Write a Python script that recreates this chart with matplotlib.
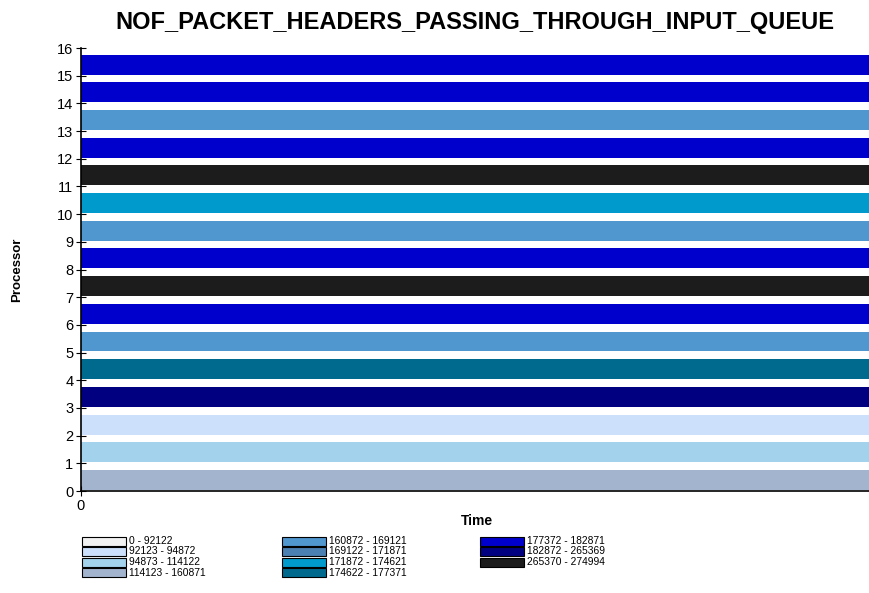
import matplotlib.pyplot as plt
from matplotlib.patches import Rectangle

plt.rcParams['font.family'] = ['Liberation Sans', 'DejaVu Sans']

# legend classes (value range -> colour)
ranges = ['0 - 92122', '92123 - 94872', '94873 - 114122', '114123 - 160871',
          '160872 - 169121', '169122 - 171871', '171872 - 174621', '174622 - 177371',
          '177372 - 182871', '182872 - 265369', '265370 - 274994']
range_colors = ['#F2F2F2', '#CCE0FB', '#A3D3EC', '#A2B4CE',
                '#5096CF', '#4A80B2', '#009ACC', '#006A8E',
                '#0000CC', '#000080', '#1C1C1C']

# class index for each processor 0..15
processors = list(range(16))
proc_class = [3, 2, 1, 9, 7, 4, 8, 10, 8, 4, 6, 10, 8, 4, 8, 8]
time_start = 0
time_end = 1

fig = plt.figure(figsize=(8.7, 5.93), dpi=100)
ax = fig.add_axes([0.093, 0.172, 0.907, 0.747])

for p in processors:
    ax.barh(p + 0.04, time_end - time_start, left=time_start, height=0.72,
            align='edge', color=range_colors[proc_class[p]], linewidth=0)

ax.set_xlim(time_start, time_end)
ax.set_ylim(0, 16)
ax.set_yticks(range(17))
ax.set_xticks([0])
ax.tick_params(axis='y', direction='inout', length=7, labelsize=10.5, pad=2)
ax.tick_params(axis='x', direction='inout', length=7, labelsize=10.5, pad=2)
ax.spines['top'].set_visible(False)
ax.spines['right'].set_visible(False)
ax.spines['left'].set_linewidth(1.2)
ax.spines['bottom'].set_linewidth(1.2)

fig.text(0.546, 0.962, 'NOF_PACKET_HEADERS_PASSING_THROUGH_INPUT_QUEUE',
         ha='center', va='center', fontsize=17, fontweight='bold')
fig.text(0.02, 0.545, 'Processor', rotation=90, ha='center', va='center',
         fontsize=9.5, fontweight='bold')
fig.text(0.548, 0.121, 'Time', ha='center', va='center', fontsize=10,
         fontweight='bold')

# legend drawn by hand in figure pixels
col_x = [82, 282, 480]
row_y = [541, 551.5, 562, 572.5]
for k in range(len(ranges)):
    col = k // 4
    row = k % 4
    x0 = col_x[col] / 870
    y0 = 1 - (row_y[row] + 4.5) / 593
    fig.add_artist(Rectangle((x0, y0), 44 / 870, 9 / 593, transform=fig.transFigure,
                             facecolor=range_colors[k], edgecolor='black', linewidth=0.8))
    fig.text(x0 + 47 / 870, y0 + 4.5 / 593, ranges[k], ha='left', va='center', fontsize=7.4)

fig.savefig('out.png', dpi=100)
